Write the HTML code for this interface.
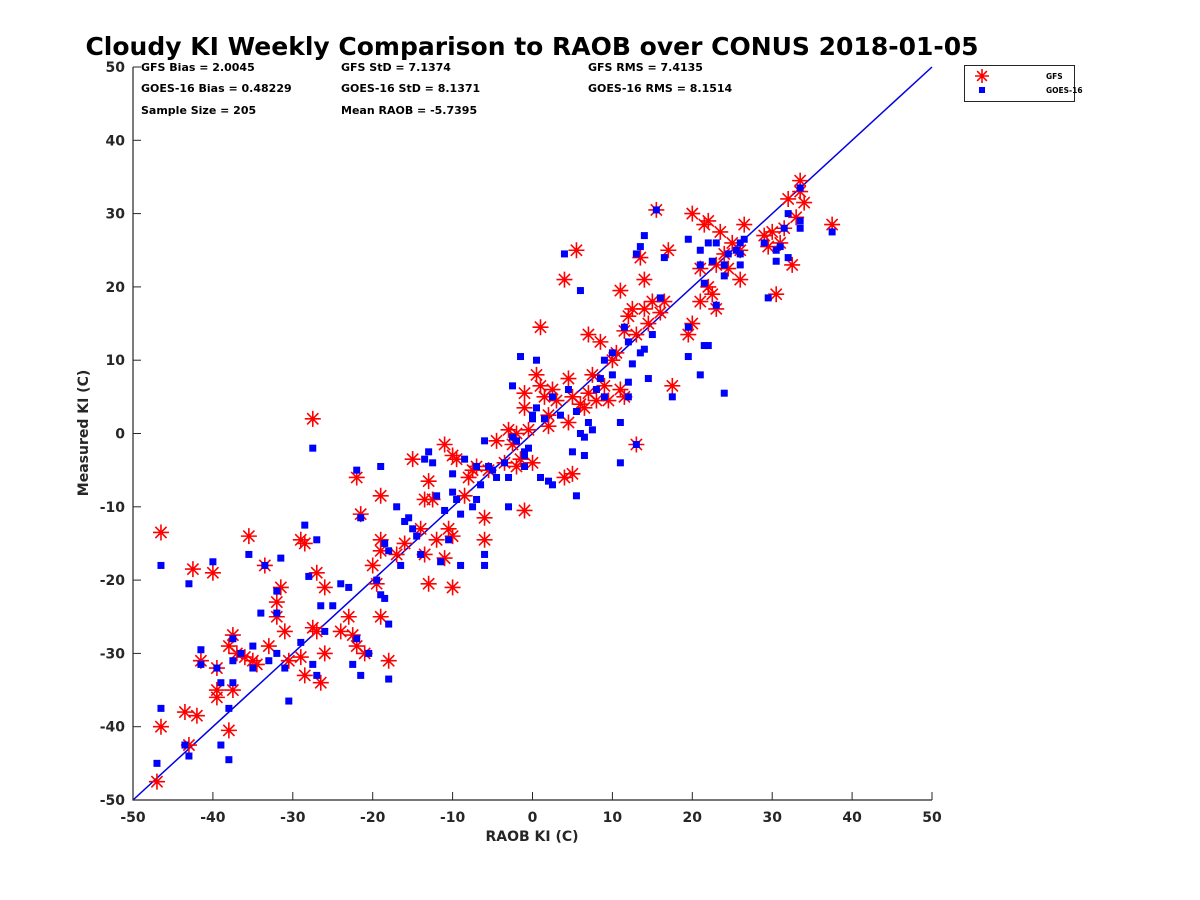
<!DOCTYPE html>
<html><head><meta charset="utf-8"><style>
body{margin:0;background:#fff;}
svg{display:block;font-family:"DejaVu Sans","Liberation Sans",sans-serif;font-weight:bold;}
</style></head><body>
<svg id="c" width="1200" height="900"></svg>
<script>
const xTicks=[-50,-40,-30,-20,-10,0,10,20,30,40,50];
const yTicks=[-50,-40,-30,-20,-10,0,10,20,30,40,50];
const gfsX=[-47,-46.5,-43.5,-42,-43,-41.5,-38,-39.5,-39.5,-37.5,-39.5,-38,-37.5,-37,-35,-34.5,-36,-33,-32,-32,-31.5,-31,-30.5,-29,-28.5,-28.5,-29,-27.5,-27,-27,-26.5,-26,-26,-24,-23,-22.5,-22,-21,-20,-19.5,-19,-19,-19,-19,-18,-17,-16,-15,-14,-13.5,-13,-13,-12.5,-12,-11,-11,-10.5,-10,-10,-9.5,-8.5,-8,-7.5,-7,-6,-6,-5.5,-3,-2.5,-2,-1.5,-1,-1,-1,-0.5,0,0.5,1,1,1.5,2,2,2.5,3,4,4,4.5,4.5,5,5,5.5,6,6.5,7,7,7.5,8,8.5,9,9.5,10,10.5,11,11,11.5,11.5,12,12.5,13,13,13.5,14,14,14.5,15,15.5,16,16.5,17,17.5,19.5,20,20,21,21,21.5,22,22,22.5,23,23,23.5,24,24.5,25,26,26.5,26,29,29.5,30,30.5,31,31.5,32,32.5,33,33.5,33.5,34,37.5,-46.5,-42.5,-40,-35.5,-33.5,-27.5,-22,-21.5,-13.5,-10,-4.5,-3.5,-2];
const gfsY=[-47.5,-40,-38,-38.5,-42.5,-31,-40.5,-36,-35,-35,-32,-29,-27.5,-30,-31,-31.5,-30.5,-29,-25,-23,-21,-27,-31,-30.5,-33,-15,-14.5,-26.5,-27,-19,-34,-30,-21,-27,-25,-27.5,-29,-30,-18,-20.5,-16,-25,-14.5,-8.5,-31,-16.5,-15,-3.5,-13,-16.5,-20.5,-6.5,-9,-14.5,-1.5,-17,-13,-14,-21,-3.5,-8.5,-6,-5,-4.5,-11.5,-14.5,-5,0.5,-1.5,0,-3.5,-10.5,3.5,5.5,0.5,-4,8,14.5,6.5,5,1,2.5,6,4.5,21,-6,1.5,7.5,5,-5.5,25,4,3.5,5.5,13.5,8,4.5,12.5,6.5,4.5,10,11,19.5,6,5,14,16,17,-1.5,13.5,24,21,17,15,18,30.5,16.5,18,25,6.5,13.5,30,15,18,22.5,28.5,20,29,19,23,17,27.5,24.5,22.5,26,21,28.5,25,27,25.5,27.5,19,26,28,32,23,29.5,34.5,33,31.5,28.5,-13.5,-18.5,-19,-14,-18,2,-6,-11,-9,-3,-1,-4,-4.5];
const goesX=[-47,-46.5,-46.5,-43,-43.5,-43,-41.5,-41.5,-40,-39.5,-39,-39,-38,-38,-37.5,-37.5,-37.5,-36.5,-35.5,-35,-35,-34,-33.5,-33,-32,-32,-32,-31.5,-31,-30.5,-29,-28.5,-28,-27.5,-27.5,-27,-27,-26.5,-26,-25,-24,-23,-22.5,-22,-22,-21.5,-21.5,-20.5,-19.5,-19,-19,-18.5,-18.5,-18,-18,-18,-17,-16.5,-16,-15.5,-15,-14.5,-14,-13.5,-13,-12.5,-12,-11.5,-11,-10.5,-10,-10,-9.5,-9,-9,-8.5,-7.5,-7,-7,-6.5,-6,-6,-6,-5.5,-5,-4.5,-3.5,-3,-3,-2.5,-2.5,-2,-1.5,-1,-1,-1,-0.5,0,0,0.5,0.5,1,1.5,2,2.5,2.5,3.5,4,4.5,5,5.5,5.5,6,6,6.5,6.5,7.5,7,8,8.5,9,9,10,10,11,11,11.5,12,12,12,12.5,13,13,13.5,13.5,14,14,14.5,15,15.5,16,16.5,17.5,19.5,19.5,19.5,21,21,21,21.5,21.5,22,22,22.5,23,23,24,24,24,24.5,25.5,26,26,26.5,26,29,29.5,30.5,30.5,31,31.5,32,32,33.5,33.5,33.5,37.5];
const goesY=[-45,-37.5,-18,-20.5,-42.5,-44,-31.5,-29.5,-17.5,-32,-34,-42.5,-37.5,-44.5,-34,-28,-31,-30,-16.5,-32,-29,-24.5,-18,-31,-24.5,-21.5,-30,-17,-32,-36.5,-28.5,-12.5,-19.5,-31.5,-2,-33,-14.5,-23.5,-27,-23.5,-20.5,-21,-31.5,-5,-28,-33,-11.5,-30,-20,-22,-4.5,-22.5,-15,-26,-33.5,-16,-10,-18,-12,-11.5,-13,-14,-16.5,-3.5,-2.5,-4,-8.5,-17.5,-10.5,-14.5,-5.5,-8,-9,-11,-18,-3.5,-10,-9,-4.5,-7,-1,-16.5,-18,-4.5,-5,-6,-4,-6,-10,6.5,-0.5,-1,10.5,-3,-2.5,-4.5,-2,2.5,2,10,3.5,-6,2,-6.5,5,-7,2.5,24.5,6,-2.5,-8.5,3,0,19.5,-0.5,-3,0.5,1.5,6,7.5,10,5,8,11,-4,1.5,14.5,7,5,12.5,9.5,-1.5,24.5,25.5,11,27,11.5,7.5,13.5,30.5,18.5,24,5,10.5,14.5,26.5,8,23,25,20.5,12,26,12,23.5,26,17.5,5.5,23,21.5,24.5,25,23,26,26.5,24.5,26,18.5,25,23.5,25.5,28,30,24,33.5,29,28,27.5];

const NS='http://www.w3.org/2000/svg';
const svg=document.getElementById('c');
const L=133,R=932,T=67,B=800;
const sx=v=>L+(v+50)/100*(R-L);
const sy=v=>B-(v+50)/100*(B-T);
function el(tag,attrs,parent){const e=document.createElementNS(NS,tag);for(const k in attrs)e.setAttribute(k,attrs[k]);(parent||svg).appendChild(e);return e;}
function txt(s,x,y,size,anchor,parent){const t=el('text',{x:x,y:y,'font-size':size,'text-anchor':anchor||'start',fill:'#262626'},parent);t.textContent=s;return t;}

const plot=el('g',{});



const ax=el('path',{d:`M${L},${T}V${B}H${R}`,stroke:'#262626','stroke-width':1.2,fill:'none'},plot);



const xt=el('g',{});


xTicks.forEach(v=>{const x=sx(v);el('line',{x1:x,x2:x,y1:B,y2:B-8,stroke:'#262626','stroke-width':1},xt);txt(String(v),x,822,14,'middle',xt);});
const yt=el('g',{});


yTicks.forEach(v=>{const y=sy(v);el('line',{x1:L,x2:L+8,y1:y,y2:y,stroke:'#262626','stroke-width':1},yt);txt(String(v),125,y+5,14,'end',yt);});

const diag=el('line',{x1:sx(-50),y1:sy(-50),x2:sx(50),y2:sy(50),stroke:'#0000e6','stroke-width':1.5},plot);



function star(cx,cy,r,g){
  el('path',{d:`M${cx-r},${cy}H${cx+r}M${cx},${cy-r}V${cy+r}M${cx-r*0.7},${cy-r*0.7}L${cx+r*0.7},${cy+r*0.7}M${cx-r*0.7},${cy+r*0.7}L${cx+r*0.7},${cy-r*0.7}`,stroke:'#ff0000','stroke-width':1.6,fill:'none'},g);
}
const gs=el('g',{});


gfsX.forEach((v,i)=>star(sx(v),sy(gfsY[i]),8,gs));
const gb=el('g',{});


goesX.forEach((v,i)=>el('rect',{x:sx(v)-3.5,y:sy(goesY[i])-3.5,width:7,height:7,fill:'#0000ff'},gb));

const ti=txt('Cloudy KI Weekly Comparison to RAOB over CONUS 2018-01-05',532,55,25,'middle');ti.setAttribute('fill','#000');


const xl=txt('RAOB KI (C)',532,841,14,'middle');


const yl=txt('Measured KI (C)',0,0,14,'middle');yl.setAttribute('transform','translate(88,433) rotate(-90)');



const st=el('g',{});


[['GFS Bias = 2.0045',141,71],['GOES-16 Bias = 0.48229',141,92],['Sample Size = 205',141,114],
 ['GFS StD = 7.1374',341,71],['GOES-16 StD = 8.1371',341,92],['Mean RAOB = -5.7395',341,114],
 ['GFS RMS = 7.4135',588,71],['GOES-16 RMS = 8.1514',588,92]].forEach(a=>{const t=txt(a[0],a[1],a[2],11,'start',st);t.setAttribute('fill','#000');});

const lg=el('g',{});


el('rect',{x:964.5,y:65.5,width:110,height:36,fill:'#fff',stroke:'#262626','stroke-width':1},lg);
const le1=el('g',{},lg);


star(982,76,7,le1);
const t1=txt('GFS',1046,79,7.5,'start',le1);t1.setAttribute('fill','#000');
const le2=el('g',{},lg);


el('rect',{x:979,y:87,width:6,height:6,fill:'#0000ff'},le2);
const t2=txt('GOES-16',1046,93,7.5,'start',le2);t2.setAttribute('fill','#000');
</script>
</body></html>
